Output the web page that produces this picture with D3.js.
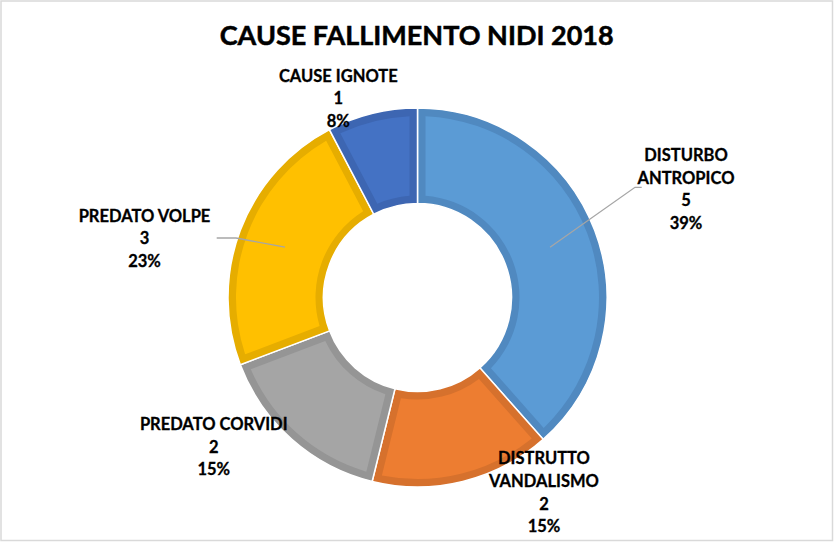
<!DOCTYPE html>
<html>
<head>
<meta charset="utf-8">
<script src="https://cdn.jsdelivr.net/npm/d3@7"></script>
<style>
  html, body { margin: 0; padding: 0; background: #fff; }
  svg { display: block; }
  text { font-family: Lato, "Open Sans", sans-serif; font-weight: bold; fill: #000; stroke: #000; stroke-width: 0.3px; }
</style>
</head>
<body>
<svg id="chart" width="834" height="542"></svg>
<script>
// ---- data ----
const title = "CAUSE FALLIMENTO NIDI 2018";
const categories = ["DISTURBO ANTROPICO", "DISTRUTTO VANDALISMO", "PREDATO CORVIDI", "PREDATO VOLPE", "CAUSE IGNOTE"];
const categoryLines = [["DISTURBO", "ANTROPICO"], ["DISTRUTTO", "VANDALISMO"], ["PREDATO CORVIDI"], ["PREDATO VOLPE"], ["CAUSE IGNOTE"]];
const values = [5, 2, 2, 3, 1];
const percentLabels = ["39%", "15%", "15%", "23%", "8%"];

// ---- styles / layout ----
const fillColors = ["#5B9BD5", "#ED7D31", "#A5A5A5", "#FFC000", "#4472C4"];
const edgeColors = ["#5089C0", "#D6712D", "#959595", "#E6AD00", "#3D66B2"];
const W = 834, H = 542;
const cx = 417.5, cy = 297.5;
const rOuter = 189.5, rInner = 94, band = 8;
const lineGap = 22.6;
// label anchor (centre x, first baseline) relative to pie centre
const labelOffsets = [[268.5, -136.5], [126.5, 166.8], [-203.8, 132.5], [-273, -75.8], [-79.2, -215.8]];
// leader lines: elbow point and end point relative to centre (null = none)
const leaders = [[[217.5, -110.2], [224.2, -110.2]], null, null, [[-181.5, -59.5], [-200.8, -59.5]], null];

const svg = d3.select("#chart");
svg.append("rect").attr("x", 1).attr("y", 1).attr("width", W - 2.5).attr("height", H - 2.5)
  .attr("fill", "#fff").attr("stroke", "#D9D9D9").attr("stroke-width", 1.5);

svg.append("text").attr("x", 416.7).attr("y", 45).attr("text-anchor", "middle")
  .style("font-size", "27px").style("stroke-width", "0.5px").text(title);

const pie = d3.pie().sort(null).value(d => d)(values);
const g = svg.append("g").attr("transform", `translate(${cx},${cy})`);

const arcOuter = d3.arc().innerRadius(rInner).outerRadius(rOuter);
const arcInner = d3.arc().innerRadius(rInner + band).outerRadius(rOuter - band)
  .padRadius(100).padAngle(2 * band / 100);
const arcMid = d3.arc().innerRadius(rInner).outerRadius(rOuter);

g.selectAll("path.outer").data(pie).join("path").attr("class", "outer")
  .attr("d", arcOuter).attr("fill", (d, i) => edgeColors[i])
  .attr("stroke", "#fff").attr("stroke-width", 1.5);
g.selectAll("path.inner").data(pie).join("path").attr("class", "inner")
  .attr("d", arcInner).attr("fill", (d, i) => fillColors[i]);

// leader lines
pie.forEach((d, i) => {
  if (!leaders[i]) return;
  const c = arcMid.centroid(d);
  g.append("polyline")
    .attr("points", [c, leaders[i][0], leaders[i][1]].map(p => p.join(",")).join(" "))
    .attr("fill", "none").attr("stroke", "#A6A6A6").attr("stroke-width", 1.3);
});

// labels
pie.forEach((d, i) => {
  const lines = categoryLines[i].concat([String(values[i]), percentLabels[i]]);
  const t = g.append("text").attr("text-anchor", "middle").style("font-size", "16.5px");
  lines.forEach((ln, k) => {
    t.append("tspan").attr("x", labelOffsets[i][0]).attr("y", labelOffsets[i][1] + k * lineGap).text(ln);
  });
});
</script>
</body>
</html>
